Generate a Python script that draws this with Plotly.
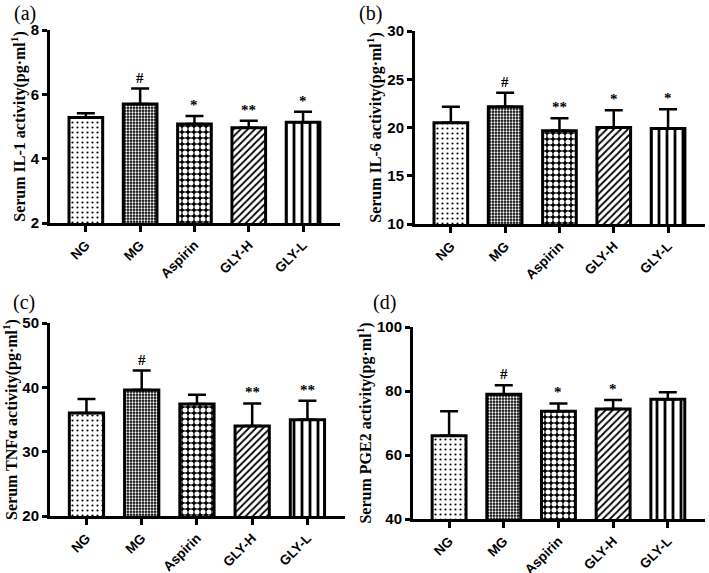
import plotly.graph_objects as go

groups = ["NG", "MG", "Aspirin", "GLY-H", "GLY-L"]

il1_mean = [5.28, 5.70, 5.08, 4.96, 5.13]
il1_err = [0.13, 0.48, 0.25, 0.22, 0.33]
il1_sig = ["", "#", "*", "**", "*"]
il1_ticks = [2, 4, 6, 8]

il6_mean = [20.5, 22.16, 19.67, 20.0, 19.9]
il6_err = [1.66, 1.45, 1.28, 1.8, 2.0]
il6_sig = ["", "#", "**", "*", "*"]
il6_ticks = [10, 15, 20, 25, 30]

tnf_mean = [36.0, 39.6, 37.4, 34.0, 34.95]
tnf_err = [2.2, 3.0, 1.45, 3.5, 2.95]
tnf_sig = ["", "#", "", "**", "**"]
tnf_ticks = [20, 30, 40, 50]

pge2_mean = [66.0, 79.0, 73.7, 74.4, 77.4]
pge2_err = [7.7, 2.8, 2.4, 2.8, 2.2]
pge2_sig = ["", "#", "*", "*", ""]
pge2_ticks = [40, 60, 80, 100]

panels = [
    dict(label="(a)", mean=il1_mean, err=il1_err, sig=il1_sig, ticks=il1_ticks,
         title="Serum IL-1 activity(pg·ml<sup>1</sup>)"),
    dict(label="(b)", mean=il6_mean, err=il6_err, sig=il6_sig, ticks=il6_ticks,
         title="Serum IL-6 activity(pg·ml<sup>1</sup>)"),
    dict(label="(c)", mean=tnf_mean, err=tnf_err, sig=tnf_sig, ticks=tnf_ticks,
         title="Serum TNFα activity(pg·ml<sup>1</sup>)"),
    dict(label="(d)", mean=pge2_mean, err=pge2_err, sig=pge2_sig, ticks=pge2_ticks,
         title="Serum PGE2 activity(pg·ml<sup>1</sup>)"),
]

W, H = 709, 573
boxes = [(50, 340, 30, 223), (415, 705, 31, 224), (50, 345, 323, 516), (413, 705, 327, 519)]
label_pos = [(12, 0), (357, 0), (11, 289), (371, 289)]

patterns = [
    dict(shape=".", fgcolor="black", bgcolor="white", size=5, solidity=0.15),
    dict(shape=".", fgcolor="white", bgcolor="black", size=3, solidity=0.45),
    dict(shape=".", fgcolor="white", bgcolor="black", size=6, solidity=0.55),
    dict(shape="/", fgcolor="black", bgcolor="white", size=5, solidity=0.35),
    dict(shape="|", fgcolor="black", bgcolor="white", size=8, solidity=0.35),
]

fig = go.Figure()
layout = {}
annotations = []
for i, p in enumerate(panels):
    n = "" if i == 0 else str(i + 1)
    xa, ya = "x" + n, "y" + n
    x0, x1, yt, yb = boxes[i]
    fig.add_trace(go.Bar(
        x=groups, y=p["mean"], xaxis=xa, yaxis=ya, width=0.62,
        marker=dict(color="white", line=dict(color="black", width=3),
                    pattern=dict(shape=[q["shape"] for q in patterns],
                                 fgcolor=[q["fgcolor"] for q in patterns],
                                 bgcolor=[q["bgcolor"] for q in patterns],
                                 size=[q["size"] for q in patterns],
                                 solidity=[q["solidity"] for q in patterns],
                                 fillmode="replace")),
        error_y=dict(type="data", array=p["err"], arrayminus=[0] * 5, symmetric=False,
                     color="black", thickness=2.5, width=9),
        showlegend=False, hoverinfo="skip",
    ))
    layout["xaxis" + n] = dict(
        domain=[x0 / W, x1 / W], anchor=ya, range=[-0.66, 4.68], automargin=False,
        tickmode="array", tickvals=groups, ticktext=["<b>%s</b>" % g for g in groups],
        showline=True, linecolor="black", linewidth=3, ticks="outside",
        ticklen=6, tickwidth=3, tickcolor="black", tickangle=-45,
        tickfont=dict(family="Liberation Sans", size=13.5, color="black"),
        showgrid=False, zeroline=False,
    )
    layout["yaxis" + n] = dict(
        domain=[1 - yb / H, 1 - yt / H], anchor=xa, range=[p["ticks"][0], p["ticks"][-1]],
        automargin=False,
        tickmode="array", tickvals=p["ticks"], ticktext=["<b>%d</b>" % t for t in p["ticks"]],
        showline=True, linecolor="black", linewidth=3, ticks="outside",
        ticklen=5, tickwidth=3, tickcolor="black",
        tickfont=dict(family="Liberation Sans", size=15, color="black"),
        title=dict(text="<b>%s</b>" % p["title"], standoff=2,
                   font=dict(family="Liberation Serif", size=16, color="black")),
        showgrid=False, zeroline=False,
    )
    for g, m, e, s in zip(groups, p["mean"], p["err"], p["sig"]):
        if s:
            annotations.append(dict(
                x=g, y=m + e, xref=xa, yref=ya, text="<b>%s</b>" % s, showarrow=False,
                yanchor="bottom", yshift=1,
                font=dict(family="Liberation Serif", size=15, color="black"),
            ))
    lx, ly = label_pos[i]
    annotations.append(dict(
        x=lx / W, y=1 - ly / H, xref="paper", yref="paper", text=p["label"],
        showarrow=False, xanchor="left", yanchor="top",
        font=dict(family="Liberation Serif", size=20, color="black"),
    ))

fig.update_layout(
    width=W, height=H, margin=dict(l=0, r=0, t=0, b=0, autoexpand=False),
    paper_bgcolor="white", plot_bgcolor="white",
    annotations=annotations, **layout,
)
fig.write_html("out.html", config={"displayModeBar": False},
               post_script="document.body.style.margin='0px';")
